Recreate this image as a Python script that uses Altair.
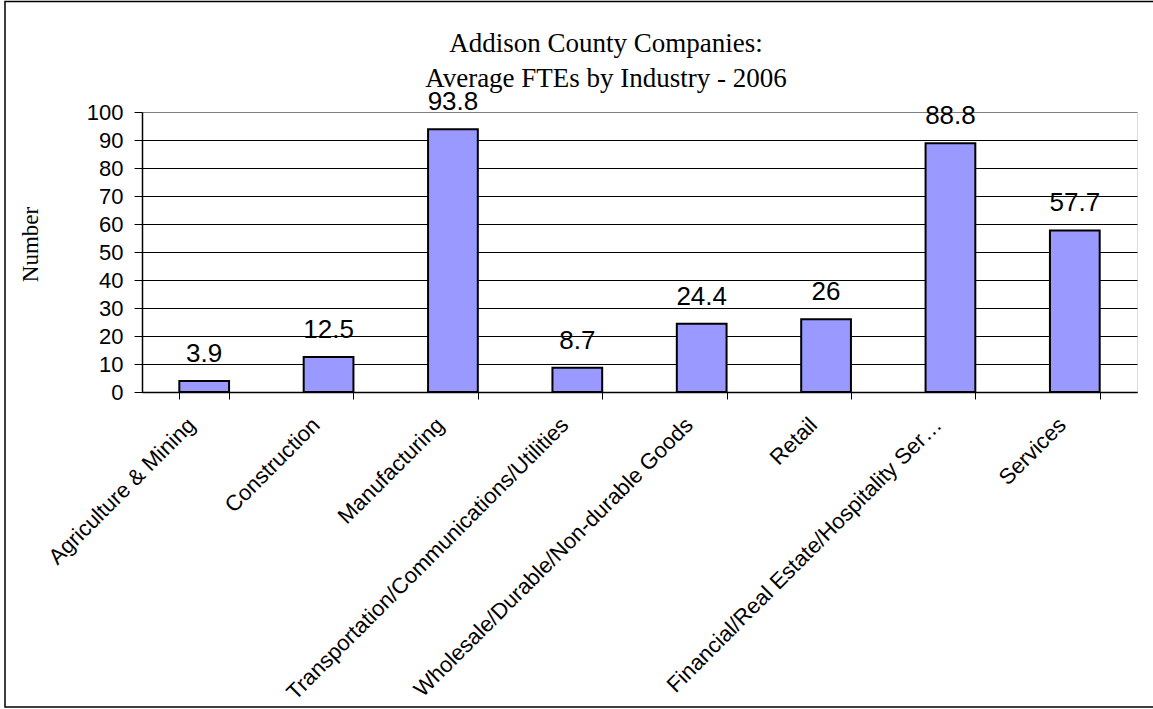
import altair as alt
import pandas as pd

categories = [
    "Agriculture & Mining",
    "Construction",
    "Manufacturing",
    "Transportation/Communications/Utilities",
    "Wholesale/Durable/Non-durable Goods",
    "Retail",
    "Financial/Real Estate/Hospitality Ser\u2026",
    "Services",
]
values = [3.9, 12.5, 93.8, 8.7, 24.4, 26, 88.8, 57.7]
value_labels = ["3.9", "12.5", "93.8", "8.7", "24.4", "26", "88.8", "57.7"]
y_ticks = list(range(0, 101, 10))
title_lines = ["Addison County Companies:", "Average FTEs by Industry - 2006"]
y_title = "Number"

df = pd.DataFrame({"industry": categories, "fte": values, "label": value_labels})

W, H = 995, 280
PAD_L, PAD_T = 142, 112

x_enc = alt.X(
    "industry:N",
    sort=categories,
    scale=alt.Scale(paddingInner=0.6, paddingOuter=0.3),
    axis=alt.Axis(
        title=None,
        labelAngle=-45,
        labelAlign="right",
        labelBaseline="top",
        labelFont="Liberation Sans",
        labelFontSize=22,
        labelColor="black",
        labelPadding=15,
        labelOffset=-20,
        labelLimit=800,
        labelOverlap=False,
        tickBand="extent",
        tickSize=7,
        tickColor="black",
        tickWidth=1,
        domainColor="black",
        domainWidth=1.5,
        grid=False,
    ),
)

y_enc = alt.Y(
    "fte:Q",
    scale=alt.Scale(domain=[0, 100], nice=False),
    axis=alt.Axis(
        values=y_ticks,
        title=y_title,
        titleFont="Liberation Serif",
        titleFontSize=23,
        titleFontWeight="normal",
        titleColor="black",
        titleAngle=270,
        titleAlign="center",
        titleBaseline="alphabetic",
        titleX=-105,
        titleY=132,
        labelFont="Liberation Sans",
        labelFontSize=22,
        labelColor="black",
        labelPadding=11,
        tickSize=8,
        tickColor="black",
        tickWidth=1,
        domainColor="black",
        domainWidth=1.5,
        grid=True,
        gridColor={"condition": {"test": "datum.value >= 100", "value": "#808080"}, "value": "black"},
        gridWidth=1,
        gridOpacity=1,
    ),
)

base = alt.Chart(df).encode(x=x_enc, y=y_enc)

bars = base.mark_bar(color="#9999FF", stroke="black", strokeWidth=2)
texts = base.mark_text(
    font="Liberation Sans", fontSize=26, baseline="alphabetic", dy=-19, color="black"
).encode(text="label:N")

one = pd.DataFrame({"k": [0]})

title = alt.Chart(one).mark_text(
    font="Liberation Serif",
    fontSize=27,
    lineHeight=35,
    align="center",
    baseline="alphabetic",
    color="black",
).encode(
    x=alt.value(606 - PAD_L),
    y=alt.value(52 - PAD_T),
    text=alt.value(title_lines),
)

border = alt.Chart(one).mark_rect(
    fillOpacity=0, stroke="black", strokeWidth=1.5
).encode(
    x=alt.value(5 - PAD_L),
    x2=alt.value(1160 - PAD_L),
    y=alt.value(1.5 - PAD_T),
    y2=alt.value(707 - PAD_T),
)

chart = (
    alt.layer(bars, texts, title, border)
    .properties(
        width=W,
        height=H,
        autosize=alt.AutoSizeParams(type="none"),
        padding={"left": PAD_L, "top": PAD_T, "right": 1153 - PAD_L - W, "bottom": 709 - PAD_T - H},
    )
    .configure_view(fill="#FFFFCC", stroke="#808080", strokeWidth=1.5)
    .configure(background="white")
)

chart.save("out.html", embed_options={"renderer": "svg", "actions": False})
